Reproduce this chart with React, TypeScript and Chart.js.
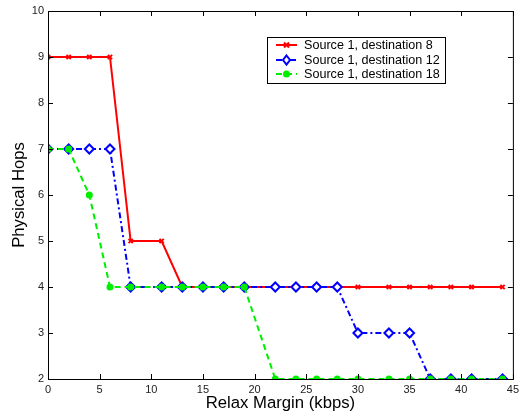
import React, { useEffect, useRef } from "react";
import { Chart, registerables } from "chart.js";

Chart.register(...registerables);

const margins = [0, 2, 4, 6, 8, 11, 13, 15, 17, 19, 22, 24, 26, 28, 30, 33, 35, 37, 39, 41, 44];
const dest8 = [9, 9, 9, 9, 5, 5, 4, 4, 4, 4, 4, 4, 4, 4, 4, 4, 4, 4, 4, 4, 4];
const dest12 = [7, 7, 7, 7, 4, 4, 4, 4, 4, 4, 4, 4, 4, 4, 3, 3, 3, 2, 2, 2, 2];
const dest18 = [7, 7, 6, 4, 4, 4, 4, 4, 4, 4, 2, 2, 2, 2, 2, 2, 2, 2, 2, 2, 2];
const seriesLabels = ["Source 1, destination 8", "Source 1, destination 12", "Source 1, destination 18"];
const xTicks = [0, 5, 10, 15, 20, 25, 30, 35, 40, 45];
const yTicks = [2, 3, 4, 5, 6, 7, 8, 9, 10];

const FONT = "'Liberation Sans', Arial, Helvetica, sans-serif";

const toPts = (ys: number[]) => margins.map((x, i) => ({ x, y: ys[i] }));

const framePlugin = {
  id: "frame",
  afterDatasetsDraw(chart: any) {
    const { ctx, chartArea: a, scales } = chart;
    const xs = scales.x;
    const ys = scales.y;
    ctx.save();
    ctx.strokeStyle = "#000";
    ctx.lineWidth = 1;
    ctx.strokeRect(a.left + 0.5, a.top + 0.5, a.right - a.left, a.bottom - a.top);
    const tl = 5;
    ctx.beginPath();
    xTicks.forEach((t) => {
      const px = Math.round(xs.getPixelForValue(t)) + 0.5;
      ctx.moveTo(px, a.bottom);
      ctx.lineTo(px, a.bottom - tl);
      ctx.moveTo(px, a.top);
      ctx.lineTo(px, a.top + tl);
    });
    yTicks.forEach((t) => {
      const py = Math.round(ys.getPixelForValue(t)) + 0.5;
      ctx.moveTo(a.left, py);
      ctx.lineTo(a.left + tl, py);
      ctx.moveTo(a.right, py);
      ctx.lineTo(a.right - tl, py);
    });
    ctx.stroke();

    // axis titles
    ctx.fillStyle = "#000";
    ctx.font = `16.7px ${FONT}`;
    ctx.textAlign = "center";
    ctx.textBaseline = "middle";
    ctx.fillText("Relax Margin (kbps)", (a.left + a.right) / 2, 403);
    ctx.save();
    ctx.translate(19, (a.top + a.bottom) / 2);
    ctx.rotate(-Math.PI / 2);
    ctx.fillText("Physical Hops", 0, 0);
    ctx.restore();

    // legend
    const bx = 267, by = 37, bw = 178, bh = 46;
    ctx.fillStyle = "#fff";
    ctx.fillRect(bx, by, bw, bh);
    ctx.strokeStyle = "#000";
    ctx.strokeRect(bx + 0.5, by + 0.5, bw, bh);
    const rows = [45, 60, 74];
    const colors = ["#ff0000", "#0000ff", "#00ee00"];
    const dashes = [[], [6, 3, 2, 3], [6, 4]];
    rows.forEach((ry, i) => {
      ctx.save();
      ctx.strokeStyle = colors[i];
      ctx.lineWidth = 2;
      ctx.setLineDash(dashes[i]);
      ctx.beginPath();
      ctx.moveTo(276, ry);
      ctx.lineTo(297, ry);
      ctx.stroke();
      ctx.setLineDash([]);
      const mx = 286.5;
      if (i === 0) {
        ctx.beginPath();
        ctx.moveTo(mx - 2.5, ry - 2.5);
        ctx.lineTo(mx + 2.5, ry + 2.5);
        ctx.moveTo(mx - 2.5, ry + 2.5);
        ctx.lineTo(mx + 2.5, ry - 2.5);
        ctx.stroke();
      } else if (i === 1) {
        ctx.fillStyle = "#fff";
        ctx.beginPath();
        ctx.moveTo(mx, ry - 4.5);
        ctx.lineTo(mx + 3.5, ry);
        ctx.lineTo(mx, ry + 4.5);
        ctx.lineTo(mx - 3.5, ry);
        ctx.closePath();
        ctx.fill();
        ctx.stroke();
      } else {
        ctx.fillStyle = colors[i];
        ctx.beginPath();
        ctx.arc(mx, ry, 3.5, 0, Math.PI * 2);
        ctx.fill();
      }
      ctx.restore();
      ctx.fillStyle = "#000";
      ctx.font = `12.6px ${FONT}`;
      ctx.textAlign = "left";
      ctx.textBaseline = "middle";
      ctx.fillText(seriesLabels[i], 304, ry + 0.5);
    });
    ctx.restore();
  },
};

export default function App() {
  const ref = useRef<HTMLCanvasElement>(null);
  useEffect(() => {
    if (!ref.current) return;
    const chart = new Chart(ref.current, {
      type: "line",
      data: {
        datasets: [
          {
            label: seriesLabels[0],
            data: toPts(dest8),
            borderColor: "#ff0000",
            backgroundColor: "#ff0000",
            borderWidth: 2,
            pointStyle: "crossRot",
            pointRadius: 3,
            pointBorderWidth: 2,
            order: 3,
          },
          {
            label: seriesLabels[1],
            data: toPts(dest12),
            borderColor: "#0000ff",
            backgroundColor: "#ffffff",
            borderWidth: 2,
            borderDash: [6, 3, 2, 3],
            pointStyle: "rectRot",
            pointRadius: 4.5,
            pointBorderWidth: 2,
            pointBackgroundColor: "#ffffff",
            order: 2,
          },
          {
            label: seriesLabels[2],
            data: toPts(dest18),
            borderColor: "#00ee00",
            backgroundColor: "#00ee00",
            borderWidth: 2,
            borderDash: [6, 4],
            pointStyle: "circle",
            pointRadius: 3.5,
            pointBorderWidth: 0,
            pointBackgroundColor: "#00ee00",
            order: 1,
          },
        ],
      },
      options: {
        animation: false,
        responsive: false,
        layout: { padding: { top: 11, right: 8, left: 0, bottom: 0 } },
        plugins: { legend: { display: false }, tooltip: { enabled: false } },
        scales: {
          x: {
            type: "linear",
            min: 0,
            max: 45,
            afterFit: (s: any) => {
              s.height = 38;
            },
            afterBuildTicks: (s: any) => {
              s.ticks = xTicks.map((v) => ({ value: v }));
            },
            ticks: {
              padding: 4,
              color: "#222",
              font: { family: FONT, size: 11 },
              maxRotation: 0,
              autoSkip: false,
            },
            grid: { display: false, drawTicks: false },
            border: { display: false },
          },
          y: {
            type: "linear",
            min: 2,
            max: 10,
            afterFit: (s: any) => {
              s.width = 48;
            },
            afterBuildTicks: (s: any) => {
              s.ticks = yTicks.map((v) => ({ value: v }));
            },
            ticks: {
              padding: 4,
              color: "#222",
              font: { family: FONT, size: 11 },
              autoSkip: false,
            },
            grid: { display: false, drawTicks: false },
            border: { display: false },
          },
        },
      },
      plugins: [framePlugin],
    });
    return () => chart.destroy();
  }, []);
  return (
    <div style={{ position: "absolute", left: 0, top: 0, width: 523, height: 417, background: "#fff" }}>
      <canvas ref={ref} width={523} height={417} style={{ width: 523, height: 417 }} />
    </div>
  );
}
